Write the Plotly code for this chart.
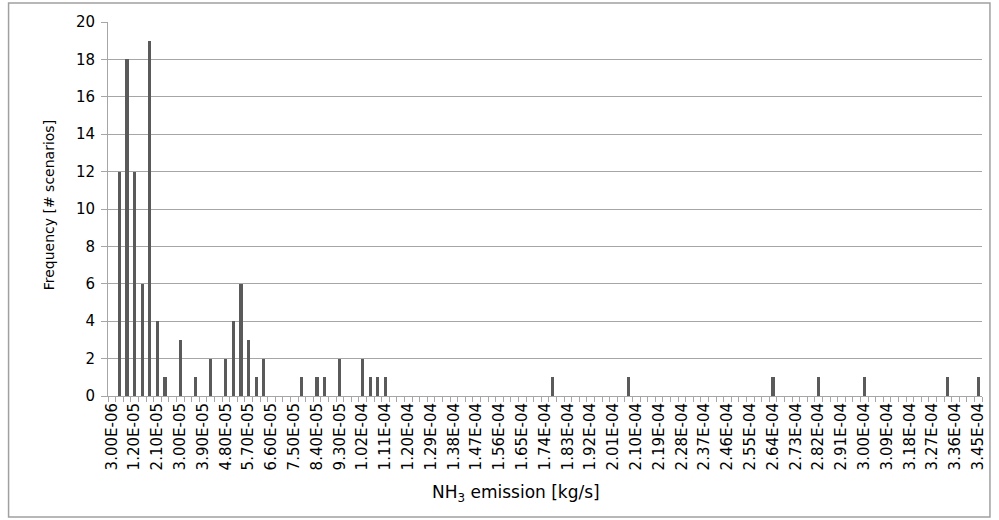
import plotly.graph_objects as go

# NH3 emission bins (kg/s) that have non-zero frequency
emission = [6.0e-06, 9.0e-06, 1.2e-05, 1.5e-05, 1.8e-05, 2.1e-05, 2.4e-05,
            3.0e-05, 3.6e-05, 4.2e-05, 4.8e-05, 5.1e-05, 5.4e-05, 5.7e-05,
            6.0e-05, 6.3e-05, 7.8e-05, 8.4e-05, 8.7e-05, 9.3e-05, 1.02e-04,
            1.05e-04, 1.08e-04, 1.11e-04, 1.77e-04, 2.07e-04, 2.64e-04,
            2.82e-04, 3.00e-04, 3.33e-04, 3.45e-04]
frequency = [12, 18, 12, 6, 19, 4, 1,
             3, 1, 2, 2, 4, 6, 3,
             1, 2, 1, 1, 1, 2, 2,
             1, 1, 1, 1, 1, 1,
             1, 1, 1, 1]

tick_labels = ["3.00E-06", "1.20E-05", "2.10E-05", "3.00E-05", "3.90E-05",
               "4.80E-05", "5.70E-05", "6.60E-05", "7.50E-05", "8.40E-05",
               "9.30E-05", "1.02E-04", "1.11E-04", "1.20E-04", "1.29E-04",
               "1.38E-04", "1.47E-04", "1.56E-04", "1.65E-04", "1.74E-04",
               "1.83E-04", "1.92E-04", "2.01E-04", "2.10E-04", "2.19E-04",
               "2.28E-04", "2.37E-04", "2.46E-04", "2.55E-04", "2.64E-04",
               "2.73E-04", "2.82E-04", "2.91E-04", "3.00E-04", "3.09E-04",
               "3.18E-04", "3.27E-04", "3.36E-04", "3.45E-04"]
tick_vals = [float(t) for t in tick_labels]

bin_step = 3e-06
FONT = "DejaVu Sans"
GRID = "#a6a6a6"

fig = go.Figure(go.Bar(
    x=emission, y=frequency,
    width=1.2e-06,
    marker=dict(color="#5a5a5a", line=dict(width=0)),
))

L, R, T, B = 108, 12, 22, 124
W, H = 999, 520
pw, ph = W - L - R, H - T - B

fig.update_layout(
    width=W, height=H,
    margin=dict(l=L, r=R, t=T, b=B, pad=0),
    paper_bgcolor="white", plot_bgcolor="white",
    font=dict(family=FONT, size=14, color="#000000"),
    showlegend=False,
    bargap=0,
    xaxis=dict(
        range=[tick_vals[0] - bin_step / 2, tick_vals[-1] + bin_step / 2],
        tickmode="array", tickvals=tick_vals, ticktext=tick_labels,
        tickangle=-90, ticks="", showgrid=False, zeroline=False,
        showline=True, linecolor=GRID, linewidth=1,
        tickfont=dict(family=FONT, size=15, color="#000000"),
        minor=dict(tickmode="linear", tick0=tick_vals[0] - bin_step / 2,
                   dtick=bin_step, ticks="outside", ticklen=5,
                   tickcolor=GRID, showgrid=False),
    ),
    yaxis=dict(
        range=[0, 20], dtick=2, tick0=0,
        showgrid=True, gridcolor=GRID, gridwidth=1,
        zeroline=False, showline=True, linecolor=GRID, linewidth=1,
        ticks="outside", ticklen=6, tickcolor=GRID,
        ticklabelstandoff=3,
        tickfont=dict(family=FONT, size=15, color="#000000"),
    ),
    annotations=[
        dict(text="NH<sub>3</sub> emission [kg/s]", showarrow=False,
             xref="paper", yref="paper",
             x=(518 - L) / pw, y=-(493 - (T + ph)) / ph,
             xanchor="center", yanchor="middle",
             font=dict(family=FONT, size=17, color="#000000")),
        dict(text="Frequency [# scenarios]", showarrow=False, textangle=-90,
             xref="paper", yref="paper",
             x=(49 - L) / pw, y=(T + ph - 205) / ph,
             xanchor="center", yanchor="middle",
             font=dict(family=FONT, size=14, color="#000000")),
    ],
    shapes=[dict(
        type="rect", xref="paper", yref="paper",
        x0=(8 - L) / pw, x1=(995 - L) / pw,
        y0=-(517 - (T + ph)) / ph, y1=1 + (T - 3) / ph,
        line=dict(color="#a0a0a0", width=1.5), fillcolor="rgba(0,0,0,0)",
        layer="below",
    )],
)

fig.write_html("out.html",
               config={"displayModeBar": False},
               post_script="document.body.style.margin='0';"
                           "document.body.style.padding='0';")
